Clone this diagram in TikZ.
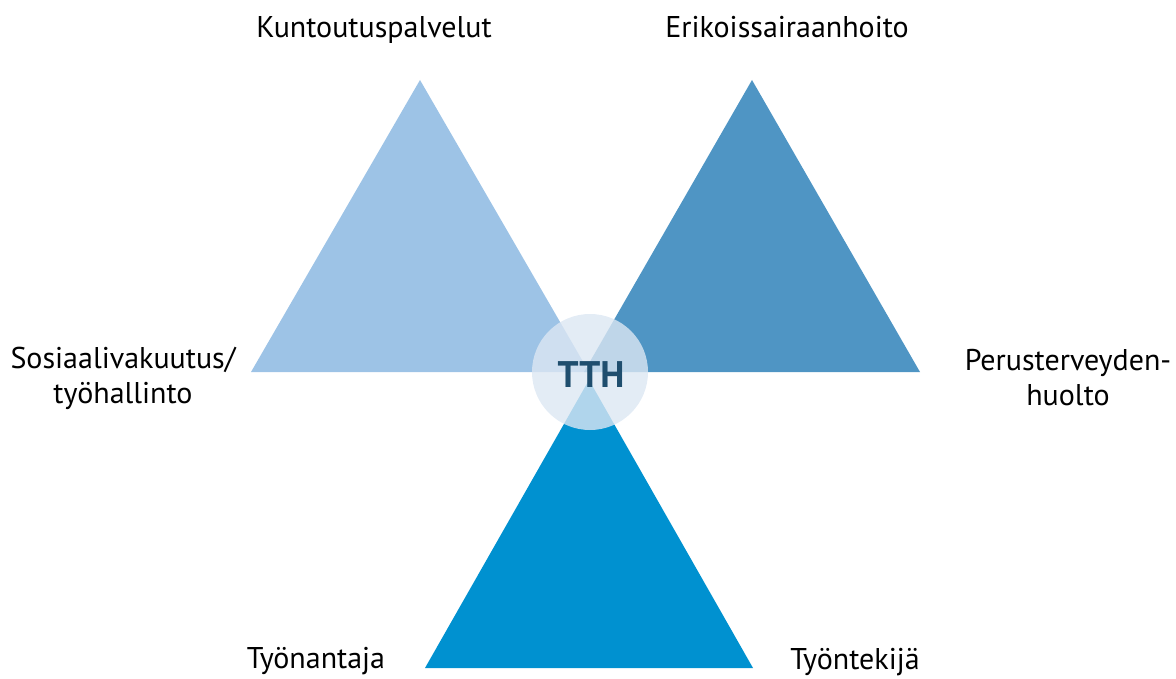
\documentclass[tikz,border=0pt]{standalone}
\usepackage{fontspec}
\setmainfont{PT Sans}
\definecolor{tlight}{HTML}{9DC3E6}
\definecolor{tmid}{HTML}{4F95C4}
\definecolor{tdark}{HTML}{0091D0}
\definecolor{hubfill}{HTML}{DCE7F3}
\definecolor{hubtext}{HTML}{1F4E6E}
\tikzset{
  lbl/.style={font=\fontsize{30}{35}\selectfont,text=black,align=center,inner sep=0pt},
}
\begin{document}
\begin{tikzpicture}[x=1pt,y=-1pt]
\useasboundingbox (0,0) rectangle (1176,679);
\fill[tlight] (420,80) -- (251,372) -- (589,372) -- cycle;
\fill[tmid] (752,80) -- (584,372) -- (920,372) -- cycle;
\fill[tdark] (589,380) -- (425,668) -- (753,668) -- cycle;
\fill[hubfill,fill opacity=0.8] (590,372) circle (58);
\node[font=\fontsize{37}{37}\selectfont\bfseries,text=hubtext,inner sep=0pt] (hub) at (591,375) {TTH};
\node[lbl,anchor=base] (kuntoutus) at (374,38) {Kuntoutuspalvelut};
\node[lbl,anchor=base] (erikois) at (787,38) {Erikoissairaanhoito};
\node[lbl] (sosiaali) at (123,378) {Sosiaalivakuutus/\\työhallinto};
\node[lbl] (perus) at (1068,378) {Perusterveyden-\\huolto};
\node[lbl,anchor=base] (antaja) at (316,668) {Työnantaja};
\node[lbl,anchor=base] (tekija) at (855,669) {Työntekijä};
\end{tikzpicture}
\end{document}
